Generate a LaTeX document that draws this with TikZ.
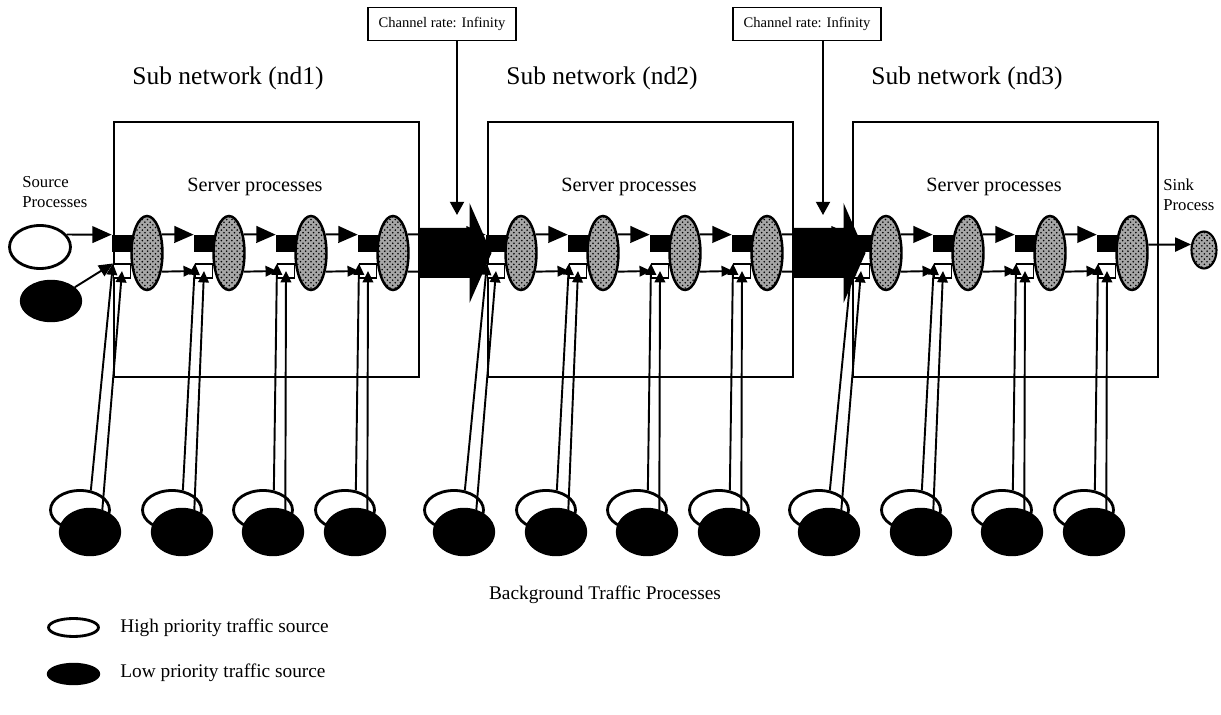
\documentclass[tikz,border=0pt]{standalone}
\usepackage{fontspec}
\setmainfont{Liberation Serif}
\usetikzlibrary{arrows.meta,shapes.geometric,patterns}

\tikzset{
  subbox/.style={draw,line width=0.9pt,minimum width=6.1cm,minimum height=5.1cm,inner sep=0pt,anchor=north west},
  server/.style={ellipse,draw,line width=1.4pt,minimum width=0.62cm,minimum height=1.48cm,inner sep=0pt,
    fill=gray!70,postaction={pattern=crosshatch dots}},
  hq/.style={fill=black,minimum width=0.4cm,minimum height=0.34cm,inner sep=0pt},
  lq/.style={draw,fill=white,line width=0.6pt,minimum width=0.34cm,minimum height=0.28cm,inner sep=0pt},
  hisrc/.style={ellipse,draw,line width=1.6pt,fill=white,inner sep=0pt},
  losrc/.style={ellipse,draw,line width=0.8pt,fill=black,inner sep=0pt},
  flow/.style={line width=1.1pt},
  bgline/.style={line width=1.1pt},
  bigtip/.style={-{Triangle[length=11pt,width=9.5pt]}},
  smalltip/.style={-{Triangle[length=6.5pt,width=6pt]}},
  ratebox/.style={draw,line width=0.6pt,minimum width=2.96cm,minimum height=0.66cm,inner sep=0pt,
    font=\fontsize{8.3}{10}\selectfont},
  title/.style={font=\fontsize{14.5}{17}\selectfont},
  label/.style={font=\fontsize{11.5}{13}\selectfont},
  small/.style={font=\fontsize{9.5}{11.4}\selectfont,align=left,anchor=north west,inner sep=0pt},
}

\begin{document}
\begin{tikzpicture}[x=0.02cm,y=-0.02cm]
\useasboundingbox (0,0) rectangle (1221,715);

% sub networks
\foreach \b/\L in {1/113,2/487,3/852} {
  \node[subbox] (box-\b) at (\L,121) {};
  \node[title] (nd-\b) at (\L+115,78) {Sub network (nd\b)};
  \node[label] (lab-\b) at (\L+142,187) {Server processes};
  \foreach \i/\dx/\px in {1/34/-33,2/116/59,3/198/150,4/280/232} {
    \node[hq] (hq-\b-\i) at (\L+\dx-25,243.5) {};
    \node[lq] (lq-\b-\i) at (\L+\dx-25,271) {};
    \node[server] (srv-\b-\i) at (\L+\dx,253) {};
    \node[hisrc,minimum width=1.18cm,minimum height=0.78cm] (bgw-\b-\i) at (\L+\px,510) {};
    \node[losrc,minimum width=1.22cm,minimum height=0.94cm] (bgb-\b-\i) at (\L+\px+10,532) {};
    \draw[bgline,smalltip] (bgw-\b-\i.61) -- (lq-\b-\i.north west);
    \draw[bgline,smalltip] (bgb-\b-\i.61) -- (lq-\b-\i.center);
  }
}

% flow from server to server
\foreach \a/\c in {1-1/1-2,1-2/1-3,1-3/1-4,1-4/2-1,2-1/2-2,2-2/2-3,2-3/2-4,2-4/3-1,3-1/3-2,3-2/3-3,3-3/3-4} {
  \draw[flow,bigtip] (srv-\a.52) -- (hq-\c.north west);
  \draw[flow,smalltip] (srv-\a.-52) -- (lq-\c.west);
}

% channels between sub networks
\foreach \b in {1,2}
  \fill (box-\b.east |- srv-\b-4) ++(0,-25) -- ++(50,0) -- ++(0,-25) -- ++(22,50)
    -- ++(-22,50) -- ++(0,-25) -- ++(-50,0) -- cycle;
\node[ratebox] (rate-1) at (442,24) {Channel rate: Infinity};
\node[ratebox] (rate-2) at (807,24) {Channel rate: Infinity};
\coordinate (chtip-1) at (457,215);
\coordinate (chtip-2) at (823,215);
\foreach \b in {1,2}
  \draw[line width=1pt,-{Triangle[length=7.5pt,width=8pt]}] (rate-\b.south -| chtip-\b) -- (chtip-\b);

% source and sink
\node[hisrc,minimum width=1.22cm,minimum height=0.86cm] (src-hi) at (40,247) {};
\node[losrc,minimum width=1.22cm,minimum height=0.82cm] (src-lo) at (51,301) {};
\node[small] (src-lab) at (22,176) {Source\\Processes};
\draw[flow,bigtip] (src-hi.25) -- (hq-1-1.north west);
\draw[flow,-{Triangle[length=8pt,width=7pt]}] (src-lo.30) -- (lq-1-1.north west);
\node[server,line width=1.2pt,minimum width=0.5cm,minimum height=0.74cm] (sink) at (1204,250) {};
\node[small] (sink-lab) at (1163,179) {Sink\\Process};
\draw[flow,-{Triangle[length=9pt,width=8pt]}] (srv-3-4.27) -- (sink.157);

% legend
\node[label,font=\fontsize{11}{13}\selectfont] (bgtxt) at (605,595) {Background Traffic Processes};
\node[hisrc,minimum width=1.0cm,minimum height=0.36cm] (leg-hi) at (73.5,627.5) {};
\node[losrc,minimum width=1.04cm,minimum height=0.42cm] (leg-lo) at (73.5,674) {};
\node[label,font=\fontsize{11}{13}\selectfont,anchor=west,inner sep=0pt] (leg-hi-txt) at (120,628) {High priority traffic source};
\node[label,font=\fontsize{11}{13}\selectfont,anchor=west,inner sep=0pt] (leg-lo-txt) at (120,673) {Low priority traffic source};
\end{tikzpicture}
\end{document}
